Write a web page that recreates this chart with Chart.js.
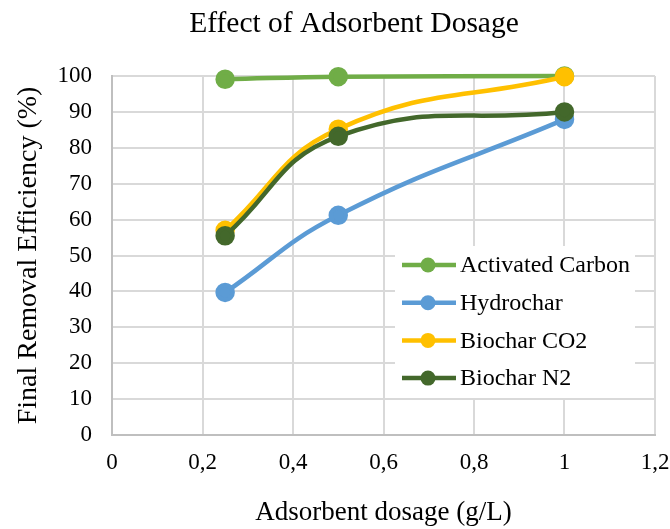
<!DOCTYPE html>
<html>
<head>
<meta charset="utf-8">
<script src="https://cdn.jsdelivr.net/npm/chart.js@4"></script>
<style>
  html, body { margin: 0; padding: 0; background: #fff; }
  #wrap { width: 670px; height: 529px; }
</style>
</head>
<body>
<div id="wrap"><canvas id="myChart" width="670" height="529"></canvas></div>
<script>
// dosage (g/L) on x, removal efficiency (%) on y
var dosages = [0.25, 0.5, 1];
var activatedCarbon = [99.1, 99.8, 100];
var hydrochar = [39.7, 61.2, 87.9];
var biocharCO2 = [57.0, 85.2, 99.8];
var biocharN2 = [55.5, 83.2, 90.0];

var seriesNames = ['Activated Carbon', 'Hydrochar', 'Biochar CO2', 'Biochar N2'];
var seriesColors = ['#70ad47', '#5b9bd5', '#ffc000', '#43682b'];
var seriesValues = [activatedCarbon, hydrochar, biocharCO2, biocharN2];

var serif = "'Liberation Serif', 'Times New Roman', serif";

function toPoints(values) {
    var pts = [];
    values.forEach((v, i) => pts.push({ x: dosages[i], y: v }));
    return pts;
}

var datasets = [];
seriesNames.forEach((name, i) => {
    datasets.push({
        label: name,
        data: toPoints(seriesValues[i]),
        borderColor: seriesColors[i],
        backgroundColor: seriesColors[i],
        pointBackgroundColor: seriesColors[i],
        pointBorderColor: seriesColors[i],
        borderWidth: 4.5,
        pointRadius: 7.5,
        pointHoverRadius: 7.5,
        tension: 0.45,
        clip: false,
        // later series sit on top, as in the original workbook
        order: seriesNames.length - i
    });
});

// title drawn by hand so it can sit off-centre
var titlePlugin = {
    id: 'sheetTitle',
    afterDraw(chart) {
        var ctx = chart.ctx;
        ctx.save();
        ctx.fillStyle = '#000';
        ctx.font = '29.5px ' + serif;
        ctx.textAlign = 'center';
        ctx.textBaseline = 'alphabetic';
        ctx.fillText('Effect of Adsorbent Dosage', 354, 32);
        ctx.restore();
    }
};

// boxed legend sitting inside the plot, lower right
var legendPlugin = {
    id: 'innerLegend',
    afterDraw(chart) {
        var ctx = chart.ctx;
        var area = chart.chartArea;
        var boxRight = area.right - 20;
        var boxLeft = boxRight - 240;
        var boxTop = 246;
        var rowH = 37.7;
        ctx.save();
        ctx.fillStyle = '#fff';
        ctx.fillRect(boxLeft, boxTop, 240, 152);
        ctx.font = '24px ' + serif;
        ctx.textBaseline = 'middle';
        chart.data.datasets.forEach((ds, i) => {
            var y = boxTop + 19 + i * rowH;
            ctx.strokeStyle = ds.borderColor;
            ctx.lineWidth = 4.5;
            ctx.beginPath();
            ctx.moveTo(boxLeft + 7, y);
            ctx.lineTo(boxLeft + 61, y);
            ctx.stroke();
            ctx.fillStyle = ds.borderColor;
            ctx.beginPath();
            ctx.arc(boxLeft + 33, y, 7.5, 0, Math.PI * 2);
            ctx.fill();
            ctx.fillStyle = '#000';
            ctx.fillText(ds.label, boxLeft + 65, y + 1);
        });
        ctx.restore();
    }
};

var chart = new Chart(document.getElementById('myChart').getContext('2d'), {
    type: 'scatter',
    data: { datasets: datasets },
    options: {
        responsive: false,
        animation: false,
        showLine: true,
        layout: { padding: { top: 76, right: 15, left: 0, bottom: 0 } },
        plugins: {
            legend: { display: false },
            title: { display: false },
            tooltip: { enabled: false }
        },
        scales: {
            x: {
                type: 'linear',
                min: 0,
                max: 1.2,
                afterFit(scale) {
                    scale.height = 94;
                    // let the last tick label hang past the plot edge
                    scale.paddingRight = 0;
                    scale.paddingLeft = 0;
                },
                ticks: {
                    stepSize: 0.2,
                    color: '#000',
                    padding: 14,
                    font: { family: serif, size: 23 },
                    callback: v => String(Number(v.toFixed(1))).replace('.', ',')
                },
                grid: { color: '#d9d9d9', lineWidth: 2, drawTicks: false },
                border: { color: '#bfbfbf', width: 2 },
                title: {
                    display: true,
                    text: 'Adsorbent dosage (g/L)',
                    color: '#000',
                    font: { family: serif, size: 27 },
                    padding: { top: 4, bottom: 0 }
                }
            },
            y: {
                min: 0,
                max: 100,
                afterFit(scale) { scale.width = 112; },
                ticks: {
                    stepSize: 10,
                    color: '#000',
                    padding: 20,
                    font: { family: serif, size: 23 }
                },
                grid: { color: '#d9d9d9', lineWidth: 2, drawTicks: false },
                border: { color: '#bfbfbf', width: 2 },
                title: {
                    display: true,
                    text: 'Final Removal Efficiency (%)',
                    color: '#000',
                    font: { family: serif, size: 28 },
                    padding: { top: 12, bottom: 0 }
                }
            }
        }
    },
    plugins: [titlePlugin, legendPlugin]
});
</script>
</body>
</html>
